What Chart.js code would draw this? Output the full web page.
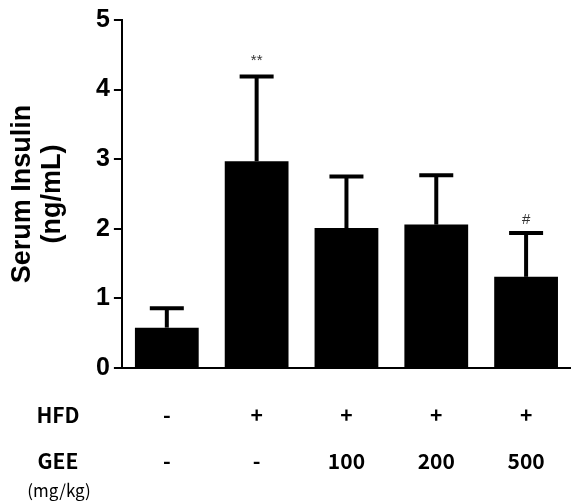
<!DOCTYPE html>
<html>
<head>
<meta charset="utf-8">
<script src="https://cdn.jsdelivr.net/npm/chart.js@4"></script>
<style>
  html, body { margin: 0; padding: 0; background: #fff; }
  #wrap { width: 571px; height: 503px; }
</style>
</head>
<body>
<div id="wrap"><canvas id="grafico-insulina"></canvas></div>
<script>
// ==========================
// DADOS
// ==========================
const hfdRow = ["-", "+", "+", "+", "+"];
const geeRow = ["-", "-", "100", "200", "500"];
const insulinMean = [0.58, 2.97, 2.01, 2.06, 1.31];
const insulinErr = [0.28, 1.22, 0.74, 0.71, 0.63];
const marks = ["", "**", "", "", "#"];
const yTicks = [0, 1, 2, 3, 4, 5];

const groupLabels = hfdRow.map((h, i) => [h, geeRow[i]]);

// ==========================
// ERROR BARS + MARCAS + CABEÇALHOS
// ==========================
const extras = {
  id: "extras",
  afterDatasetsDraw(chart) {
    const { ctx, scales: { x, y } } = chart;
    ctx.save();
    ctx.strokeStyle = "#000";
    ctx.fillStyle = "#000";
    insulinMean.forEach((v, i) => {
      const px = x.getPixelForValue(i);
      const top = y.getPixelForValue(v);
      const errTop = y.getPixelForValue(v + insulinErr[i]);
      ctx.lineWidth = 4;
      ctx.beginPath();
      ctx.moveTo(px, top);
      ctx.lineTo(px, errTop);
      ctx.stroke();
      ctx.beginPath();
      ctx.moveTo(px - 17, errTop);
      ctx.lineTo(px + 17, errTop);
      ctx.stroke();
      if (marks[i]) {
        ctx.font = "15px 'Liberation Sans', Arial, sans-serif";
        ctx.fillStyle = "#333";
        ctx.textAlign = "center";
        ctx.textBaseline = "middle";
        ctx.fillText(marks[i], px, errTop - (marks[i] === "#" ? 13 : 16));
        ctx.fillStyle = "#000";
      }
    });
    ctx.restore();
  },
  afterDraw(chart) {
    const { ctx } = chart;
    ctx.save();
    ctx.fillStyle = "#000";
    ctx.textAlign = "center";
    ctx.textBaseline = "middle";
    ctx.font = "bold 21px 'Noto Sans CJK KR', 'Liberation Sans', sans-serif";
    ctx.fillText("HFD", 58, 415);
    ctx.fillText("GEE", 58, 461);
    ctx.font = "17px 'Noto Sans CJK KR', 'Liberation Sans', sans-serif";
    ctx.fillText("(mg/kg)", 59, 491);
    ctx.restore();
  }
};

// ==========================
// GRÁFICO
// ==========================
const ctxIns = document.getElementById("grafico-insulina");
new Chart(ctxIns, {
  type: "bar",
  data: {
    labels: groupLabels,
    datasets: [{
      data: insulinMean,
      backgroundColor: "#000",
      borderWidth: 0,
      barPercentage: 0.71,
      categoryPercentage: 1
    }]
  },
  options: {
    responsive: true,
    maintainAspectRatio: false,
    animation: false,
    layout: { padding: { top: 20, right: 0, bottom: 19, left: 0 } },
    plugins: {
      legend: { display: false },
      tooltip: { enabled: false }
    },
    scales: {
      x: {
        afterFit: (axis) => { axis.height = 116; },
        grid: { display: false, drawTicks: false },
        border: { display: true, color: "#000", width: 2 },
        ticks: {
          color: "#000",
          padding: 24,
          maxRotation: 0,
          autoSkip: false,
          font: { family: "'Noto Sans CJK KR', 'Liberation Sans', sans-serif", size: 21, weight: "bold", lineHeight: 46 / 21 }
        }
      },
      y: {
        min: 0,
        max: 5,
        afterBuildTicks: (axis) => { axis.ticks = yTicks.map(v => ({ value: v })); },
        grid: { drawOnChartArea: false, drawTicks: true, tickLength: 8, color: "#000", lineWidth: 2 },
        border: { display: true, color: "#000", width: 2 },
        ticks: {
          color: "#000",
          padding: 4,
          font: { family: "'Liberation Sans', Arial, sans-serif", size: 25, weight: "bold" }
        },
        title: {
          display: true,
          text: ["Serum Insulin", "(ng/mL)"],
          color: "#000",
          padding: { top: 8, bottom: 24 },
          font: { family: "'Liberation Sans', Arial, sans-serif", size: 27, weight: "bold", lineHeight: 30 / 27 }
        }
      }
    }
  },
  plugins: [extras]
});
</script>
</body>
</html>
